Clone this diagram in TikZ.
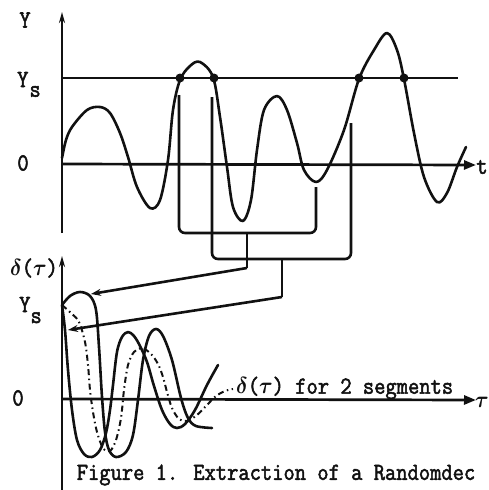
\documentclass[tikz,border=0pt]{standalone}
\usepackage{fontspec}
\usepackage{graphicx}
\newfontfamily\typefont{Latin Modern Mono}[FakeBold=2.2]
\usetikzlibrary{arrows.meta, calc}
\newcommand{\typed}[1]{\scalebox{1}[1.12]{\typefont\boldmath #1}}

\begin{document}
\begin{tikzpicture}[x=1pt, y=-1pt,
  axisline/.style={line width=2.7pt, draw=ink, -{Triangle[length=12pt, width=9pt]}},
  spikeaxis/.style={line width=2.7pt, draw=ink, -{Stealth[length=11pt, width=6pt]}},
  refline/.style={line width=2.5pt, draw=ink},
  wave/.style={line width=2.6pt, draw=ink, line join=round, line cap=round},
  meanwave/.style={line width=2pt, draw=ink, dash pattern=on 6pt off 3.5pt on 1.5pt off 3.5pt},
  bracket/.style={line width=2.6pt, draw=ink, rounded corners=6pt},
  pointer/.style={line width=2.6pt, draw=ink, -{Stealth[length=10pt, width=7pt]}},
  crossing/.style={circle, fill=ink, inner sep=0pt, minimum size=9pt},
  tag/.style={font=\fontsize{21.9}{22}\selectfont, text=ink, inner sep=0pt}
]
% --- RANDOMDEC: SINAL, LIMIAR Ys E MEDIA DOS SEGMENTOS ---
\definecolor{ink}{HTML}{111111}
\useasboundingbox (0,0) rectangle (488,490);

% LAYER 1: Eixos do sinal y(t)
\coordinate (yfoot) at (62,233);
\coordinate (ytop) at (62,12);
\coordinate (ysleft) at (62,78);
\coordinate (ysright) at (458,78);
\coordinate (tleft) at (62,164);
\coordinate (tright) at (476,165);
\draw[spikeaxis] (yfoot) -- (ytop);
\draw[refline] (ysleft) -- (ysright);
\draw[axisline] (tleft) -- (tright);
\node[tag] (ylab) at (25,20) {\typed{Y}};
\node[tag, anchor=base west] (yslab) at (17,87) {\typed{Y\hspace{1pt}\raisebox{-0.4em}{s}}};
\node[tag] (zerotop) at (23,163) {\typed{0}};
\node[tag] (tlab) at (482,167) {\typed{t}};

% LAYER 2: Sinal aleatorio
\draw[wave] plot[smooth, tension=0.55] coordinates {
  (62,158) (66,140) (72,127) (87,110) (100,107) (110,113) (120,133) (128,157)
  (137,187) (150,208) (160,200) (168,160) (173,110) (180,80) (190,66) (200,62)
  (213,77) (220,117) (227,167) (233,207) (243,221) (251,200) (257,150) (264,110)
  (277,96) (287,110) (297,143) (304,170) (316,182) (327,170) (344,130) (359,79)
  (374,50) (387,33) (397,50) (404,79) (414,133) (424,177) (437,202) (447,193)
  (457,167) (466,147)};
\node[crossing] (c1) at (180,78) {};
\node[crossing] (c2) at (214,78) {};
\node[crossing] (c3) at (359,78) {};
\node[crossing] (c4) at (404,78) {};

% LAYER 3: Chaves que juntam os segmentos
\coordinate (legA) at (179,95);
\coordinate (legB) at (316,187);
\coordinate (joinA) at (247,233);
\coordinate (stemA) at (247,268);
\coordinate (tipA) at (91,294);
\draw[bracket] (legA) |- (joinA) -| (legB);
\draw[bracket] (joinA) -- (stemA);
\draw[pointer] (stemA) -- (tipA);

\coordinate (legC) at (212,97);
\coordinate (legD) at (351,123);
\coordinate (joinC) at (282,259);
\coordinate (stemC) at (282,297);
\coordinate (tipC) at (68,330);
\draw[bracket] (legC) |- (joinC) -| (legD);
\draw[bracket] (joinC) -- (stemC);
\draw[pointer] (stemC) -- (tipC);

% LAYER 4: Eixos da assinatura delta(tau)
\coordinate (dfoot) at (62,492);
\coordinate (dtop) at (62,256);
\coordinate (tauleft) at (62,399);
\coordinate (tauright) at (476,400);
\draw[spikeaxis] (dfoot) -- (dtop);
\draw[axisline] (tauleft) -- (tauright);
\node[tag] (dlab) at (34,268) {\typed{$\delta$($\tau$)}};
\node[tag, anchor=base west] (ys2lab) at (19,312) {\typed{Y\raisebox{-0.45em}{s}}};
\node[tag] (zerobot) at (18,398) {\typed{0}};
\node[tag] (taulab) at (482,402) {\typed{$\tau$}};

% LAYER 5: Dois segmentos e a media
\draw[wave] plot[smooth, tension=0.55] coordinates {
  (62,305) (70,296) (80,292) (90,296) (96,310) (99,347) (102,397) (105,432)
  (109,450) (116,457) (126,452) (133,435) (138,400) (143,360) (149,336) (156,329)
  (163,336) (172,360) (181,398) (188,418) (196,426) (212,428)};
\draw[wave] plot[smooth, tension=0.55] coordinates {
  (62,305) (65,330) (68,370) (72,410) (77,440) (84,454) (92,457) (100,450)
  (106,433) (110,410) (113,385) (117,352) (122,337) (128,332) (134,336) (140,346)
  (147,362) (154,386) (162,410) (170,424) (177,428) (185,424) (195,410) (207,385)
  (218,365)};
\draw[meanwave] plot[smooth, tension=0.55] coordinates {
  (62,305) (72,314) (79,322) (85,342) (88,365) (90,390) (93,412) (97,432)
  (103,448) (110,451) (116,440) (121,418) (124,390) (128,365) (134,352) (142,348)
  (151,354) (158,364) (163,377) (167,392) (172,408) (179,419) (187,421) (197,415)
  (207,405) (216,396) (225,391) (233,389)};
\node[tag, anchor=west] (meanlab) at (236,388) {\typed{$\delta$($\tau$) for 2 segments}};

% LAYER 6: Legenda
\node[tag] (caption) at (276,475) {\typed{Figure 1. Extraction of a Randomdec}};
\end{tikzpicture}
\end{document}
